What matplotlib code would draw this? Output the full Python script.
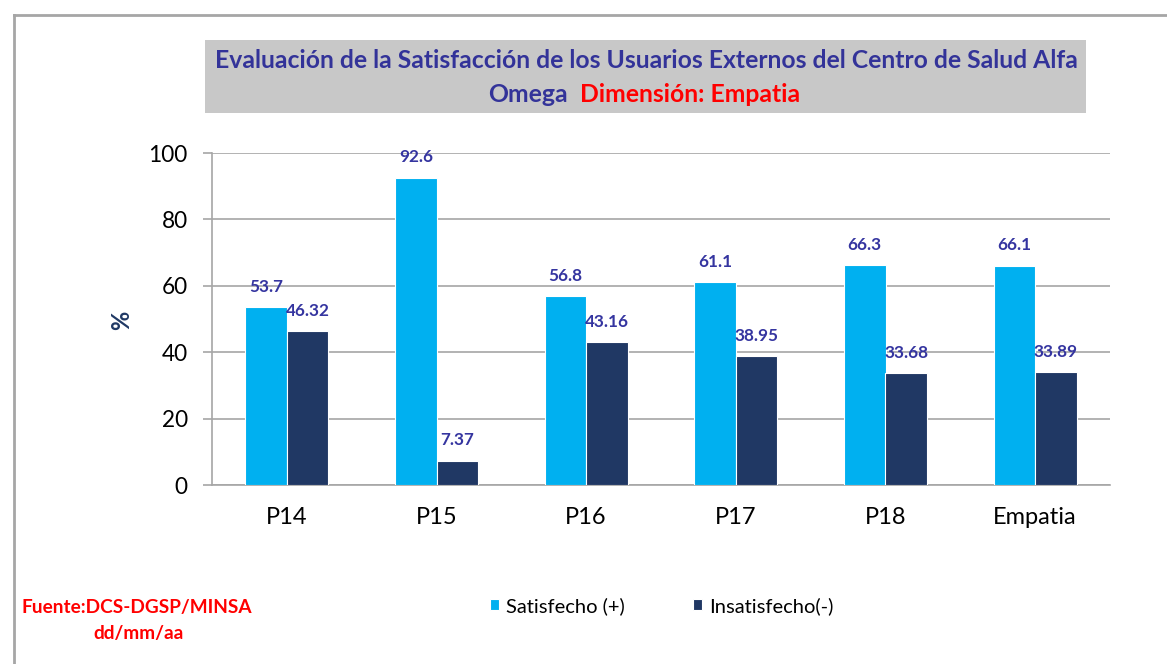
import matplotlib.pyplot as plt
import numpy as np
from matplotlib.lines import Line2D
from matplotlib.patches import Rectangle

# data
categorias = ['P14', 'P15', 'P16', 'P17', 'P18', 'Empatia']
satisfecho = [53.7, 92.6, 56.8, 61.1, 66.3, 66.1]
insatisfecho = [46.32, 7.37, 43.16, 38.95, 33.68, 33.89]
etq_sat = ['53.7', '92.6', '56.8', '61.1', '66.3', '66.1']
etq_ins = ['46.32', '7.37', '43.16', '38.95', '33.68', '33.89']

# colors
c_sat = '#00B0F0'
c_ins = '#203864'
c_etq = '#3535A0'
c_rojo = '#FF0000'
c_grid = '#A6A6A6'

plt.rcParams['font.family'] = ['Lato', 'DejaVu Sans']

fig = plt.figure(figsize=(11.67, 6.64), dpi=100)
ax = fig.add_axes([212/1167, 1 - 485/664, 898/1167, 332/664])

x = np.arange(len(categorias))
w = 0.277
b1 = ax.bar(x - w/2, satisfecho, w, color=c_sat, edgecolor='white', linewidth=0.8, label='Satisfecho (+)', zorder=3)
b2 = ax.bar(x + w/2, insatisfecho, w, color=c_ins, edgecolor='white', linewidth=0.8, label='Insatisfecho(-)', zorder=3)

# value labels above bars
for i in range(len(x)):
    ax.annotate(etq_sat[i], (x[i] - w/2, satisfecho[i]), xytext=(0, 14.5), textcoords='offset points',
                ha='center', va='center', fontsize=12.3, fontweight='bold', color=c_etq, zorder=4)
    ax.annotate(etq_ins[i], (x[i] + w/2, insatisfecho[i]), xytext=(0, 14.5), textcoords='offset points',
                ha='center', va='center', fontsize=12.3, fontweight='bold', color=c_etq, zorder=4)

ax.set_xlim(-0.5, len(categorias) - 0.5)
ax.set_ylim(0, 100)
ax.set_yticks([0, 20, 40, 60, 80, 100])
ax.set_xticks(x)
ax.set_xticklabels(categorias)
ax.tick_params(axis='x', length=0, labelsize=17, pad=16)
ax.tick_params(axis='y', length=6.5, width=1.2, color=c_grid, labelsize=16.3, pad=11)
ax.yaxis.grid(True, color=c_grid, linewidth=1.2, zorder=0)
for s in ['top', 'right']:
    ax.spines[s].set_visible(False)
for s in ['left', 'bottom']:
    ax.spines[s].set_color(c_grid)
    ax.spines[s].set_linewidth(1.2)
ax.set_ylabel('%', fontsize=17, fontweight='bold', color='#1F3864')
ax.yaxis.set_label_coords(-0.088, 0.497)

# title box
fig.patches.append(Rectangle((205/1167, 1 - 113/664), 881/1167, 73/664, transform=fig.transFigure,
                             facecolor='#C8C8C8', edgecolor='none', zorder=0))
fig.text(646/1167, 1 - 61/664, 'Evaluación de la Satisfacción de los Usuarios Externos del Centro de Salud Alfa',
         ha='center', va='center', fontsize=17.8, fontweight='bold', color='#333399')
fig.text(568/1167, 1 - 95/664, 'Omega', ha='right', va='center', fontsize=17.8, fontweight='bold', color='#333399')
fig.text(580/1167, 1 - 95/664, 'Dimensión: Empatia', ha='left', va='center', fontsize=17.8, fontweight='bold', color=c_rojo)

# outer border lines
fig.add_artist(Line2D([14/1167, 1], [1 - 15/664, 1 - 15/664], transform=fig.transFigure, color=c_grid, linewidth=2))
fig.add_artist(Line2D([14/1167, 14/1167], [0, 1 - 15/664], transform=fig.transFigure, color=c_grid, linewidth=2))

# legend
fig.legend(handles=[b1, b2], loc='center', bbox_to_anchor=(662/1167, 1 - 606/664), ncol=2, frameon=False,
           fontsize=14.5, handlelength=0.45, handleheight=0.45, handletextpad=0.35, columnspacing=3.4)

# source note
fig.text(137/1167, 1 - 607/664, 'Fuente:DCS-DGSP/MINSA', ha='center', va='center', fontsize=13.7,
         fontweight='bold', color=c_rojo)
fig.text(138/1167, 1 - 634/664, 'dd/mm/aa', ha='center', va='center', fontsize=13.7,
         fontweight='bold', color=c_rojo)

fig.savefig('out.png', dpi=100)
